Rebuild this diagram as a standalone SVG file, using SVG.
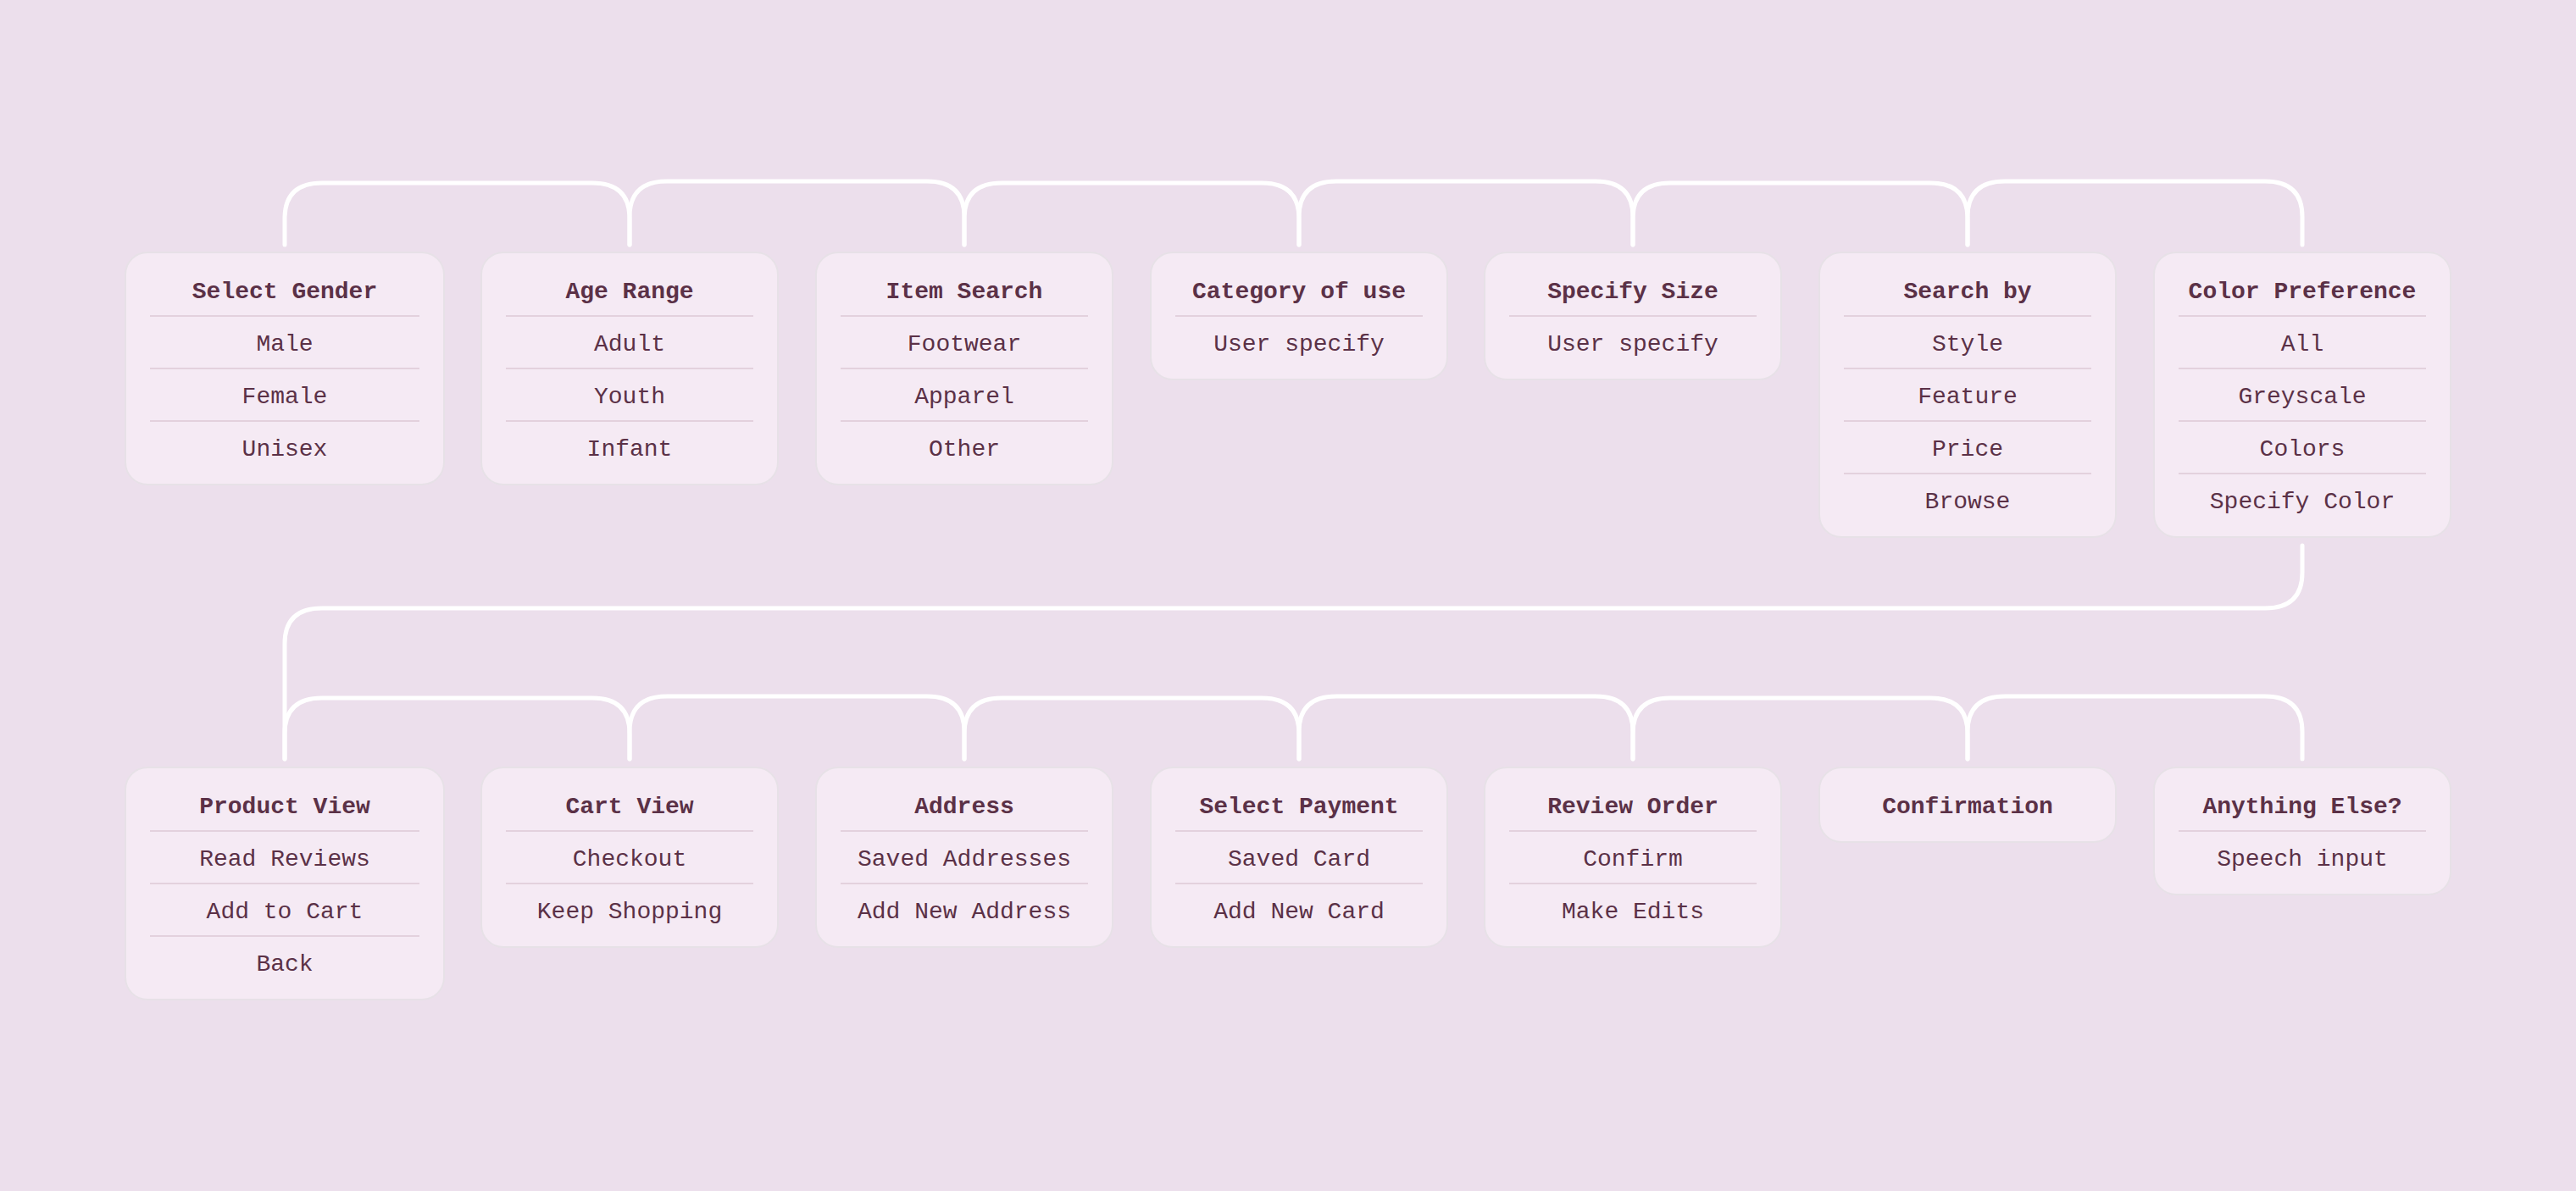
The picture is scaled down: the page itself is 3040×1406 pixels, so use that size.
<svg xmlns="http://www.w3.org/2000/svg" width="3040" height="1406" viewBox="0 0 3040 1406">
  <style>
    .bg { fill: #ecdfec; }
    .box { fill: #f5eaf4; stroke: #e7e1e7; stroke-width: 2; }
    .sep { stroke: #e3d1dd; stroke-width: 2; }
    .title { font-family: "Liberation Mono", "DejaVu Sans Mono", monospace; font-size: 28px; font-weight: 700; fill: #5b3147; text-anchor: middle; }
    .item { font-family: "Liberation Mono", "DejaVu Sans Mono", monospace; font-size: 28px; fill: #5b3147; text-anchor: middle; }
    .wire { fill: none; stroke: #ffffff; stroke-width: 5; stroke-linecap: round; }
  </style>
  <rect class="bg" x="0" y="0" width="3040" height="1406"/>

  <!-- connectors -->
  <g id="connectors">
    <!-- top row -->
    <path class="wire" d="M336 289 V258 Q336 216 380 216 H699 Q743 216 743 258 V289"/>
    <path class="wire" d="M743 289 V256 Q743 214 787 214 H1094 Q1138 214 1138 256 V289"/>
    <path class="wire" d="M1138 289 V258 Q1138 216 1182 216 H1489 Q1533 216 1533 258 V289"/>
    <path class="wire" d="M1533 289 V256 Q1533 214 1577 214 H1883 Q1927 214 1927 256 V289"/>
    <path class="wire" d="M1927 289 V258 Q1927 216 1971 216 H2278 Q2322 216 2322 258 V289"/>
    <path class="wire" d="M2322 289 V256 Q2322 214 2366 214 H2673 Q2717 214 2717 256 V289"/>
    <!-- wrap to second row -->
    <path class="wire" d="M2717 644 V676 Q2717 718 2673 718 H380 Q336 718 336 760 V896"/>
    <!-- bottom row -->
    <path class="wire" d="M336 896 V866 Q336 824 380 824 H699 Q743 824 743 866 V896"/>
    <path class="wire" d="M743 896 V864 Q743 822 787 822 H1094 Q1138 822 1138 864 V896"/>
    <path class="wire" d="M1138 896 V866 Q1138 824 1182 824 H1489 Q1533 824 1533 866 V896"/>
    <path class="wire" d="M1533 896 V864 Q1533 822 1577 822 H1883 Q1927 822 1927 864 V896"/>
    <path class="wire" d="M1927 896 V866 Q1927 824 1971 824 H2278 Q2322 824 2322 866 V896"/>
    <path class="wire" d="M2322 896 V864 Q2322 822 2366 822 H2673 Q2717 822 2717 864 V896"/>
  </g>

  <!-- top row nodes -->
  <g id="select-gender">
    <rect class="box" x="148" y="298" width="376" height="274" rx="26"/>
    <text class="title" x="336" y="352">Select Gender</text>
    <line class="sep" x1="177" y1="373" x2="495" y2="373"/>
    <text class="item" x="336" y="414">Male</text>
    <line class="sep" x1="177" y1="435" x2="495" y2="435"/>
    <text class="item" x="336" y="476">Female</text>
    <line class="sep" x1="177" y1="497" x2="495" y2="497"/>
    <text class="item" x="336" y="538">Unisex</text>
  </g>
  <g id="age-range">
    <rect class="box" x="568" y="298" width="350" height="274" rx="26"/>
    <text class="title" x="743" y="352">Age Range</text>
    <line class="sep" x1="597" y1="373" x2="889" y2="373"/>
    <text class="item" x="743" y="414">Adult</text>
    <line class="sep" x1="597" y1="435" x2="889" y2="435"/>
    <text class="item" x="743" y="476">Youth</text>
    <line class="sep" x1="597" y1="497" x2="889" y2="497"/>
    <text class="item" x="743" y="538">Infant</text>
  </g>
  <g id="item-search">
    <rect class="box" x="963" y="298" width="350" height="274" rx="26"/>
    <text class="title" x="1138" y="352">Item Search</text>
    <line class="sep" x1="992" y1="373" x2="1284" y2="373"/>
    <text class="item" x="1138" y="414">Footwear</text>
    <line class="sep" x1="992" y1="435" x2="1284" y2="435"/>
    <text class="item" x="1138" y="476">Apparel</text>
    <line class="sep" x1="992" y1="497" x2="1284" y2="497"/>
    <text class="item" x="1138" y="538">Other</text>
  </g>
  <g id="category-of-use">
    <rect class="box" x="1358" y="298" width="350" height="150" rx="26"/>
    <text class="title" x="1533" y="352">Category of use</text>
    <line class="sep" x1="1387" y1="373" x2="1679" y2="373"/>
    <text class="item" x="1533" y="414">User specify</text>
  </g>
  <g id="specify-size">
    <rect class="box" x="1752" y="298" width="350" height="150" rx="26"/>
    <text class="title" x="1927" y="352">Specify Size</text>
    <line class="sep" x1="1781" y1="373" x2="2073" y2="373"/>
    <text class="item" x="1927" y="414">User specify</text>
  </g>
  <g id="search-by">
    <rect class="box" x="2147" y="298" width="350" height="336" rx="26"/>
    <text class="title" x="2322" y="352">Search by</text>
    <line class="sep" x1="2176" y1="373" x2="2468" y2="373"/>
    <text class="item" x="2322" y="414">Style</text>
    <line class="sep" x1="2176" y1="435" x2="2468" y2="435"/>
    <text class="item" x="2322" y="476">Feature</text>
    <line class="sep" x1="2176" y1="497" x2="2468" y2="497"/>
    <text class="item" x="2322" y="538">Price</text>
    <line class="sep" x1="2176" y1="559" x2="2468" y2="559"/>
    <text class="item" x="2322" y="600">Browse</text>
  </g>
  <g id="color-preference">
    <rect class="box" x="2542" y="298" width="350" height="336" rx="26"/>
    <text class="title" x="2717" y="352">Color Preference</text>
    <line class="sep" x1="2571" y1="373" x2="2863" y2="373"/>
    <text class="item" x="2717" y="414">All</text>
    <line class="sep" x1="2571" y1="435" x2="2863" y2="435"/>
    <text class="item" x="2717" y="476">Greyscale</text>
    <line class="sep" x1="2571" y1="497" x2="2863" y2="497"/>
    <text class="item" x="2717" y="538">Colors</text>
    <line class="sep" x1="2571" y1="559" x2="2863" y2="559"/>
    <text class="item" x="2717" y="600">Specify Color</text>
  </g>

  <!-- bottom row nodes -->
  <g id="product-view">
    <rect class="box" x="148" y="906" width="376" height="274" rx="26"/>
    <text class="title" x="336" y="960">Product View</text>
    <line class="sep" x1="177" y1="981" x2="495" y2="981"/>
    <text class="item" x="336" y="1022">Read Reviews</text>
    <line class="sep" x1="177" y1="1043" x2="495" y2="1043"/>
    <text class="item" x="336" y="1084">Add to Cart</text>
    <line class="sep" x1="177" y1="1105" x2="495" y2="1105"/>
    <text class="item" x="336" y="1146">Back</text>
  </g>
  <g id="cart-view">
    <rect class="box" x="568" y="906" width="350" height="212" rx="26"/>
    <text class="title" x="743" y="960">Cart View</text>
    <line class="sep" x1="597" y1="981" x2="889" y2="981"/>
    <text class="item" x="743" y="1022">Checkout</text>
    <line class="sep" x1="597" y1="1043" x2="889" y2="1043"/>
    <text class="item" x="743" y="1084">Keep Shopping</text>
  </g>
  <g id="address">
    <rect class="box" x="963" y="906" width="350" height="212" rx="26"/>
    <text class="title" x="1138" y="960">Address</text>
    <line class="sep" x1="992" y1="981" x2="1284" y2="981"/>
    <text class="item" x="1138" y="1022">Saved Addresses</text>
    <line class="sep" x1="992" y1="1043" x2="1284" y2="1043"/>
    <text class="item" x="1138" y="1084">Add New Address</text>
  </g>
  <g id="select-payment">
    <rect class="box" x="1358" y="906" width="350" height="212" rx="26"/>
    <text class="title" x="1533" y="960">Select Payment</text>
    <line class="sep" x1="1387" y1="981" x2="1679" y2="981"/>
    <text class="item" x="1533" y="1022">Saved Card</text>
    <line class="sep" x1="1387" y1="1043" x2="1679" y2="1043"/>
    <text class="item" x="1533" y="1084">Add New Card</text>
  </g>
  <g id="review-order">
    <rect class="box" x="1752" y="906" width="350" height="212" rx="26"/>
    <text class="title" x="1927" y="960">Review Order</text>
    <line class="sep" x1="1781" y1="981" x2="2073" y2="981"/>
    <text class="item" x="1927" y="1022">Confirm</text>
    <line class="sep" x1="1781" y1="1043" x2="2073" y2="1043"/>
    <text class="item" x="1927" y="1084">Make Edits</text>
  </g>
  <g id="confirmation">
    <rect class="box" x="2147" y="906" width="350" height="88" rx="26"/>
    <text class="title" x="2322" y="960">Confirmation</text>
  </g>
  <g id="anything-else">
    <rect class="box" x="2542" y="906" width="350" height="150" rx="26"/>
    <text class="title" x="2717" y="960">Anything Else?</text>
    <line class="sep" x1="2571" y1="981" x2="2863" y2="981"/>
    <text class="item" x="2717" y="1022">Speech input</text>
  </g>
</svg>
